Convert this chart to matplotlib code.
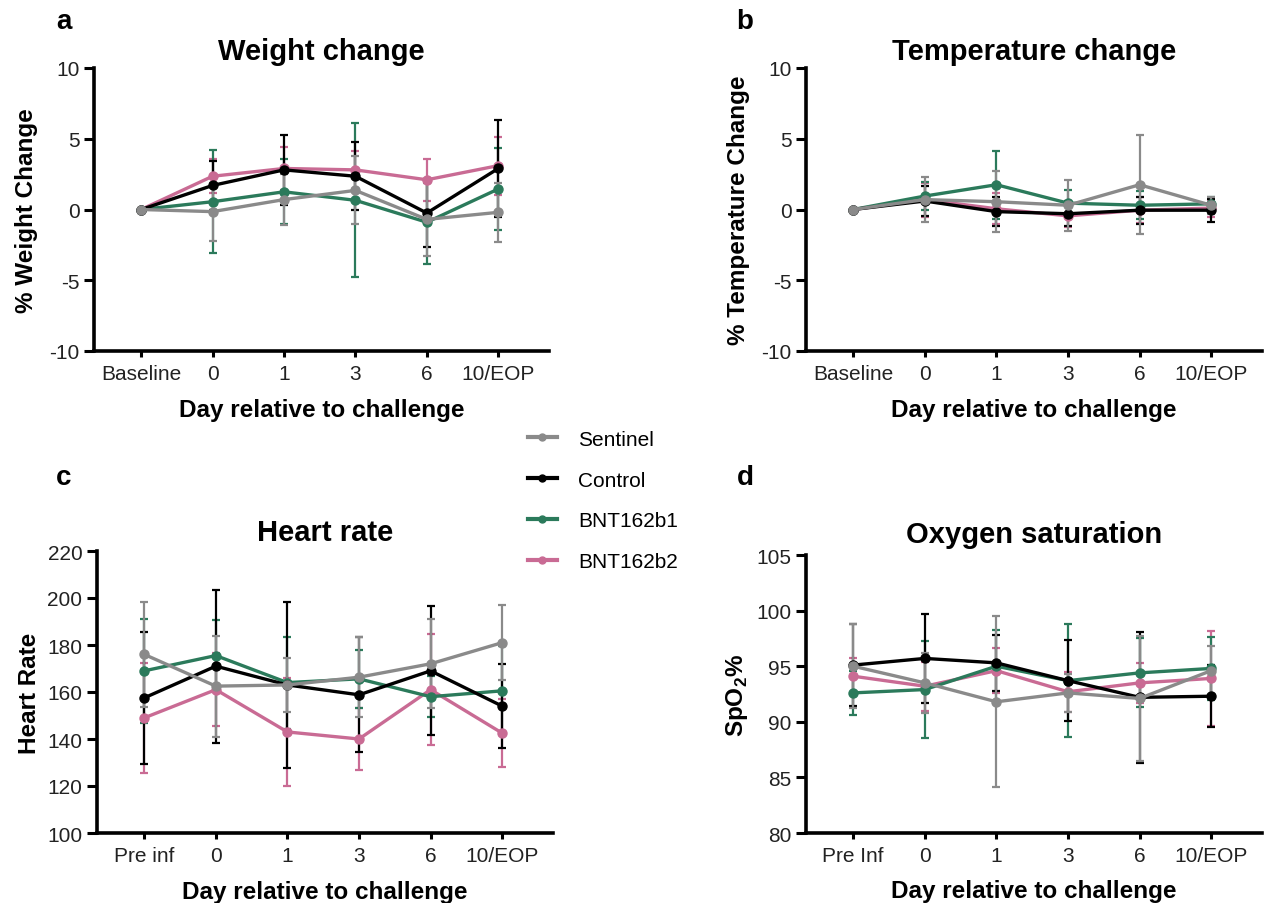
import matplotlib.pyplot as plt
from matplotlib.lines import Line2D

plt.rcParams['font.family'] = ['Liberation Sans', 'DejaVu Sans']
plt.rcParams['mathtext.fontset'] = 'custom'
plt.rcParams['mathtext.rm'] = 'Liberation Sans'
plt.rcParams['mathtext.bf'] = 'Liberation Sans:bold'
plt.rcParams['axes.unicode_minus'] = False

groups = ["Sentinel", "Control", "BNT162b1", "BNT162b2"]
colors = {"Sentinel": "#8a8a8a", "Control": "#000000",
          "BNT162b1": "#2b7a5b", "BNT162b2": "#c96b94"}

days_base = ["Baseline", "0", "1", "3", "6", "10/EOP"]
days_hr = ["Pre inf", "0", "1", "3", "6", "10/EOP"]
days_spo2 = ["Pre Inf", "0", "1", "3", "6", "10/EOP"]

weight_mean = {
    "Sentinel": [0, -0.15, 0.7, 1.35, -0.7, -0.2],
    "Control": [0, 1.7, 2.8, 2.35, -0.25, 2.9],
    "BNT162b1": [0, 0.55, 1.25, 0.65, -0.9, 1.45],
    "BNT162b2": [0, 2.35, 2.9, 2.8, 2.1, 3.1],
}
weight_sd = {
    "Sentinel": [0, 2.05, 1.83, 2.4, 2.6, 2.1],
    "Control": [0, 1.7, 2.45, 2.4, 2.4, 3.45],
    "BNT162b1": [0, 3.65, 2.3, 5.45, 2.95, 2.9],
    "BNT162b2": [0, 1.2, 1.55, 1.35, 1.5, 2.05],
}

temp_mean = {
    "Sentinel": [0, 0.7, 0.55, 0.3, 1.75, 0.3],
    "Control": [0, 0.6, -0.15, -0.3, -0.05, -0.05],
    "BNT162b1": [0, 0.95, 1.75, 0.45, 0.3, 0.4],
    "BNT162b2": [0, 0.7, 0.05, -0.45, -0.05, 0.1],
}
temp_sd = {
    "Sentinel": [0, 1.6, 2.15, 1.8, 3.5, 0.6],
    "Control": [0, 1.05, 1.05, 0.9, 0.95, 0.8],
    "BNT162b1": [0, 1.0, 2.4, 0.9, 1.0, 0.5],
    "BNT162b2": [0, 1.2, 1.1, 0.8, 0.9, 0.6],
}

hr_mean = {
    "Sentinel": [176, 162.5, 163, 166.3, 172, 181],
    "Control": [157.5, 171, 163, 158.8, 169, 154],
    "BNT162b1": [169, 175.5, 164, 165.6, 158, 160.5],
    "BNT162b2": [149, 161, 143, 140, 161, 142.5],
}
hr_sd = {
    "Sentinel": [22.5, 21.5, 11.5, 17, 19, 16],
    "Control": [28, 32.5, 35.3, 24.5, 27.5, 18],
    "BNT162b1": [22, 15.2, 19.6, 12.4, 8.6, 19],
    "BNT162b2": [23.5, 15.4, 23, 13.2, 23.5, 14.5],
}

spo2_mean = {
    "Sentinel": [95.0, 93.5, 91.8, 92.6, 92.1, 94.6],
    "Control": [95.1, 95.7, 95.3, 93.7, 92.2, 92.3],
    "BNT162b1": [92.6, 92.9, 95.0, 93.7, 94.4, 94.8],
    "BNT162b2": [94.1, 93.2, 94.6, 92.7, 93.5, 93.9],
}
spo2_sd = {
    "Sentinel": [3.8, 2.7, 7.7, 1.7, 5.6, 2.2],
    "Control": [3.7, 4.0, 2.5, 3.65, 5.9, 2.8],
    "BNT162b1": [2.0, 4.4, 3.3, 5.1, 3.1, 2.8],
    "BNT162b2": [1.6, 2.2, 2.0, 1.8, 1.8, 4.3],
}

W, H = 1264, 904
fig = plt.figure(figsize=(W / 100, H / 100), dpi=100)


def box(left, right, top, bottom):
    return [left / W, 1 - bottom / H, (right - left) / W, (bottom - top) / H]


def panel(rect, labels, mean, sd, ylim, yticks, title, title_y, ylabel, letter, letter_xy):
    ax = fig.add_axes(rect)
    x = list(range(len(labels)))
    for g in reversed(groups):
        ax.errorbar(x, mean[g], yerr=sd[g], color=colors[g], lw=2.4,
                    marker='o', ms=6.5, capsize=3, elinewidth=1.6, capthick=1.6)
    ax.set_xlim(-0.66, 5.71)
    ax.set_ylim(*ylim)
    ax.set_yticks(yticks)
    ax.set_xticks(x)
    ax.set_xticklabels(labels)
    for s in ['top', 'right']:
        ax.spines[s].set_visible(False)
    for s in ['left', 'bottom']:
        ax.spines[s].set_linewidth(2.6)
    ax.tick_params(axis='y', length=7, width=2.2, labelsize=15, labelcolor='#222222')
    ax.tick_params(axis='x', length=4.5, width=2.2, labelsize=15, labelcolor='#222222', pad=5)
    ax.text(0.5, title_y, title, transform=ax.transAxes, fontsize=21,
            fontweight='bold', ha='center', va='center')
    ax.set_xlabel("Day relative to challenge", fontsize=17.5, fontweight='bold')
    ax.xaxis.set_label_coords(0.5, -0.165)
    ax.set_ylabel(ylabel, fontsize=17.5, fontweight='bold')
    ax.yaxis.set_label_coords(-0.123, 0.5)
    fig.text(letter_xy[0] / W, 1 - letter_xy[1] / H, letter, fontsize=20,
             fontweight='bold', ha='center', va='center')
    return ax


panel(box(94, 549, 69, 352), days_base, weight_mean, weight_sd, (-10, 10),
      [-10, -5, 0, 5, 10], "Weight change", 1.06, "% Weight Change", "a", (64, 22))
panel(box(806, 1262, 69, 352), days_base, temp_mean, temp_sd, (-10, 10),
      [-10, -5, 0, 5, 10], "Temperature change", 1.06, "% Temperature Change", "b", (745, 22))
panel(box(97, 553, 552, 834), days_hr, hr_mean, hr_sd, (100, 220),
      list(range(100, 221, 20)), "Heart rate", 1.067, "Heart Rate", "c", (64, 478))
panel(box(806, 1262, 556, 834), days_spo2, spo2_mean, spo2_sd, (80, 105),
      [80, 85, 90, 95, 100, 105], "Oxygen saturation", 1.075, r"SpO$_\mathbf{2}$%", "d", (745, 478))

handles = [Line2D([], [], color=colors[g], lw=3, marker='o', ms=5) for g in groups]
fig.legend(handles, groups, loc='upper left', bbox_to_anchor=(509 / W, 1 - 412 / H),
           frameon=False, fontsize=15, handlelength=1.4, labelspacing=1.05,
           handletextpad=1.0)

fig.savefig("out.png", dpi=100)
